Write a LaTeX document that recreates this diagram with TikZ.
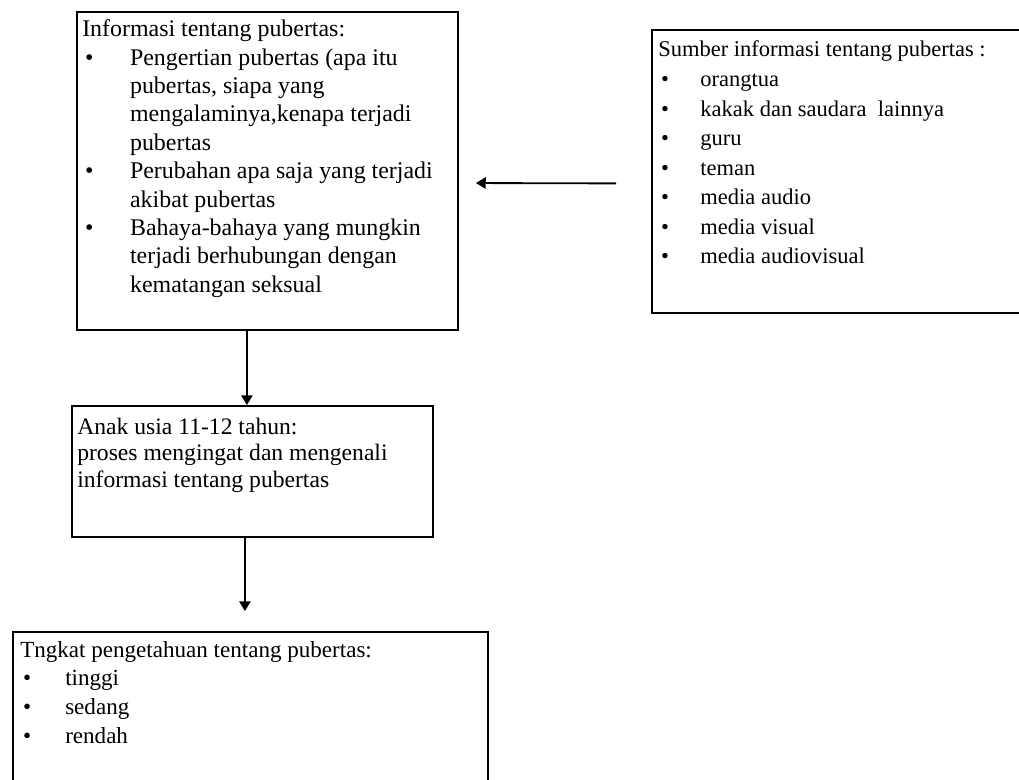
\documentclass[tikz,border=0pt]{standalone}
\usepackage{fontspec}
\setmainfont{Liberation Serif}
\usetikzlibrary{positioning, arrows.meta, calc}

% bullet in a fixed-width slot
\newcommand{\bul}[1]{\makebox[#1][l]{\hspace*{2pt}\textbullet}}

\begin{document}
\begin{tikzpicture}[
  x=0.025cm, y=-0.025cm,
  box/.style={draw, line width=1.2pt, inner sep=0pt},
  txt/.style={anchor=base west, inner sep=0pt},
  arr/.style={-{Triangle[length=7pt, width=8pt]}, line width=1.3pt}
]
\useasboundingbox (0,0) rectangle (1019,780);

% ---- TOP LEFT: what is known about puberty ----
\node[box, minimum width=9.525cm, minimum height=7.95cm] (info) at (267.5,171) {};
\node[txt, font=\fontsize{17}{20.2}\selectfont] (infotxt) at (82,36.7) {%
  \begin{tabular}[t]{@{}l@{}}
  Informasi tentang pubertas:\\
  \bul{34pt}Pengertian pubertas (apa itu\\
  \hspace*{34pt}pubertas, siapa yang\\
  \hspace*{34pt}mengalaminya,kenapa terjadi\\
  \hspace*{34pt}pubertas\\
  \bul{34pt}Perubahan apa saja yang terjadi\\
  \hspace*{34pt}akibat pubertas\\
  \bul{34pt}Bahaya-bahaya yang mungkin\\
  \hspace*{34pt}terjadi berhubungan dengan\\
  \hspace*{34pt}kematangan seksual
  \end{tabular}};

% ---- TOP RIGHT: sources ----
\node[box, minimum width=9.45cm, minimum height=7.075cm] (sumber) at (841,171.5) {};
\node[txt, font=\fontsize{16}{21}\selectfont] (sumbertxt) at (658,57) {%
  \begin{tabular}[t]{@{}l@{}}
  Sumber informasi tentang pubertas :\\
  \bul{30pt}orangtua\\
  \bul{30pt}kakak dan saudara~ lainnya\\
  \bul{30pt}guru\\
  \bul{30pt}teman\\
  \bul{30pt}media audio\\
  \bul{30pt}media visual\\
  \bul{30pt}media audiovisual
  \end{tabular}};

% ---- MIDDLE: children 11-12 ----
\node[box, minimum width=9.025cm, minimum height=3.275cm] (anak) at (252.5,471.5) {};
\node[txt, font=\fontsize{16.8}{19}\selectfont] (anaktxt) at (77,434) {%
  \begin{tabular}[t]{@{}l@{}}
  Anak usia 11-12 tahun:\\
  proses mengingat dan mengenali\\
  informasi tentang pubertas
  \end{tabular}};

% ---- BOTTOM: level of knowledge ----
\node[box, minimum width=11.875cm, minimum height=4.2cm] (tingkat) at (250.5,716) {};
\node[txt, font=\fontsize{16.4}{20.4}\selectfont] (tingkattxt) at (20,657) {%
  \begin{tabular}[t]{@{}l@{}}
  Tngkat pengetahuan tentang pubertas:\\
  \bul{32pt}tinggi\\
  \bul{32pt}sedang\\
  \bul{32pt}rendah
  \end{tabular}};

% ---- ARROWS ----
\draw[arr, shorten <=0.875cm, shorten >=0.425cm]
  ([yshift=-0.3cm]sumber.west) -- ([yshift=-0.3cm]info.east);
\coordinate (a1) at ([xshift=-0.14cm]anak.north);
\draw[arr] (a1 |- info.south) -- (a1);
\coordinate (a2) at ([xshift=-0.19cm]anak.south);
\draw[arr, shorten >=0.5cm] (a2) -- (a2 |- tingkat.north);

\end{tikzpicture}
\end{document}
